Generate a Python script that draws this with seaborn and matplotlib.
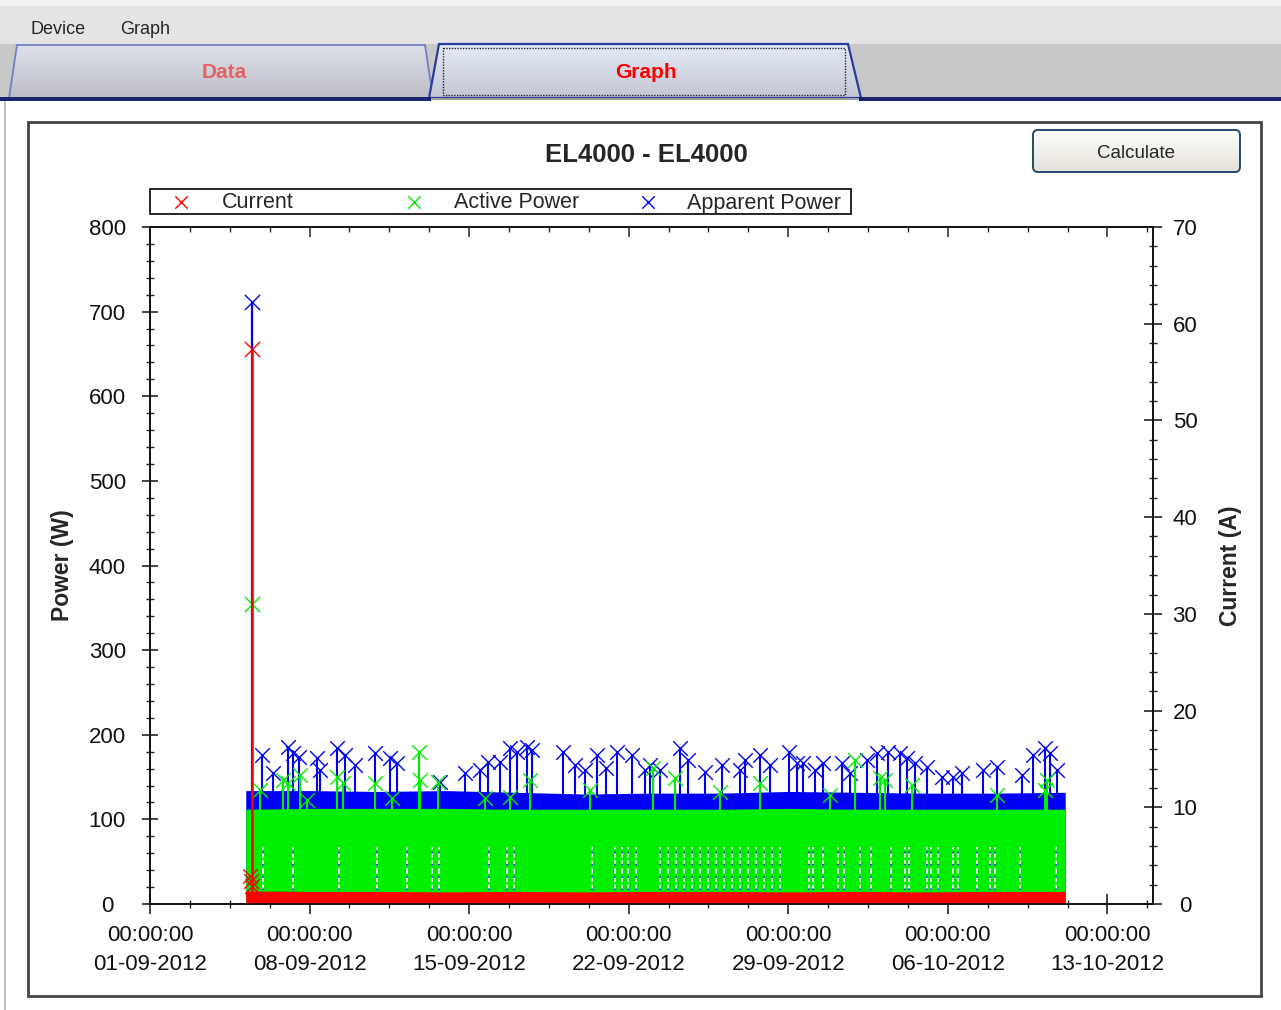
import numpy as np
import pandas as pd
import matplotlib
matplotlib.use("Agg")
import matplotlib.pyplot as plt
import matplotlib.dates as mdates
from matplotlib.patches import Polygon, Rectangle, FancyBboxPatch
from matplotlib.colors import LinearSegmentedColormap
from matplotlib.ticker import FixedLocator, MultipleLocator
import seaborn as sns

sns.set_style("ticks")
plt.rcParams["font.family"] = ["Liberation Sans", "DejaVu Sans"]

# ---------------- data ----------------
ORIGIN = pd.Timestamp("2012-09-01")
X_END = pd.Timestamp("2012-10-15")
tick_dates = ["2012-09-01", "2012-09-08", "2012-09-15", "2012-09-22",
              "2012-09-29", "2012-10-06", "2012-10-13"]

series_names = ["Current", "Active Power", "Apparent Power"]

# envelope of the dense, continuously logged band (days after 01-09-2012)
envelope_days = [4.20, 7.0, 10.0, 13.0, 16.0, 19.0, 22.0, 25.0, 28.0, 31.0, 34.0, 37.0, 40.15]
apparent_top = [134, 134, 133, 134, 132, 130, 131, 131, 133, 132, 131, 131, 132]      # W
active_top = [112, 113, 113, 113, 112, 112, 112, 112, 113, 112, 112, 112, 112]        # W
current_top = [1.35, 1.30, 1.30, 1.25, 1.30, 1.25, 1.30, 1.30, 1.25, 1.30, 1.25, 1.30, 1.30]  # A

# single start-up spike
spike_day = 4.48
spike_apparent = 711   # W
spike_active = 355     # W
spike_current = 57.4   # A

# early current readings at the start of logging
early_current_days = [4.40, 4.43, 4.46]
early_current = [2.9, 2.4, 1.9]

# apparent power peaks above the band
apparent_peak_days = [4.92, 5.40, 6.06, 6.28, 6.54, 7.33, 7.46, 8.21, 8.56, 9.00, 9.87, 10.53,
                      10.84, 12.73, 13.82, 14.48, 14.83, 15.36, 15.80, 16.11, 16.55, 16.76,
                      18.13, 18.65, 19.09, 19.62, 20.01, 20.50, 21.15, 21.72, 21.94, 22.38,
                      23.26, 23.61, 24.36, 25.10, 25.89, 26.11, 26.77, 27.21, 28.04, 28.39,
                      28.66, 29.18, 29.54, 30.37, 30.72, 31.47, 31.91, 32.39, 32.91, 33.22,
                      33.57, 34.10, 34.76, 35.24, 35.64, 36.56, 37.17, 38.27, 38.75, 39.28,
                      39.50, 39.81]
apparent_peak_w = [176, 155, 186, 178, 174, 173, 158, 184, 176, 164, 178, 173,
                   167, 144, 155, 158, 168, 168, 184, 180, 186, 182,
                   180, 164, 158, 176, 161, 180, 176, 158, 164, 158,
                   184, 170, 156, 164, 158, 170, 176, 164, 180, 167,
                   167, 158, 167, 167, 155, 170, 178, 180, 178, 173,
                   167, 162, 150, 150, 155, 158, 162, 152, 176, 184,
                   178, 158]

# active power peaks above the band
active_peak_days = [4.83, 5.84, 6.06, 6.58, 6.89, 8.21, 8.47, 9.87, 10.62, 11.81, 11.85,
                    12.64, 14.70, 15.80, 16.68, 19.31, 22.08, 23.04, 25.02, 26.77, 29.84,
                    30.94, 32.04, 32.26, 33.44, 37.17, 39.28, 39.37]
active_peak_w = [135, 147, 143, 152, 123, 150, 143, 143, 125, 180, 147,
                 144, 125, 126, 147, 135, 161, 149, 132, 143, 129,
                 170, 149, 147, 141, 129, 135, 147]

# short drop-outs of active power (white gaps in the green band)
gap_days = [4.96, 6.28, 8.29, 9.96, 11.28, 12.38, 12.68, 14.88, 15.67, 15.97, 19.40,
            20.41, 20.71, 20.98, 21.33, 22.38, 22.73, 23.08, 23.44, 23.79, 24.14, 24.49,
            24.84, 25.19, 25.54, 25.89, 26.24, 26.60, 26.95, 27.30, 27.65, 28.92, 29.10,
            29.54, 30.19, 30.46, 31.16, 31.64, 32.52, 33.13, 33.31, 34.10, 34.28, 34.58,
            35.24, 35.46, 36.29, 36.86, 37.08, 38.18, 39.76]
gap_low, gap_high = 16, 67   # W

# ---------------- helpers ----------------
RED, GREEN, BLUE = "#ff0000", "#00ee00", "#0000f4"
W, H = 1281, 1010


def days(d):
    return ORIGIN + pd.to_timedelta(np.asarray(d, dtype=float), unit="D")


fig = plt.figure(figsize=(W / 100, H / 100), dpi=100)
fig.patch.set_facecolor("white")

# ---------------- window chrome (pixel coordinates) ----------------
bg = fig.add_axes([0, 0, 1, 1], zorder=0)
bg.axis("off")


def grad_fill(patch_for_clip, x0, x1, y0, y1, c_top, c_bot, z):
    cmap = LinearSegmentedColormap.from_list("g", [c_top, c_bot])
    im = bg.imshow(np.linspace(0, 1, 256)[:, None], extent=(x0, x1, y1, y0),
                   cmap=cmap, aspect="auto", zorder=z, origin="upper")
    bg.add_patch(patch_for_clip)
    im.set_clip_path(patch_for_clip)


def grad_poly(verts, c_top, c_bot, edge, lw, z):
    xs = [v[0] for v in verts]
    ys = [v[1] for v in verts]
    clip = Polygon(verts, closed=True, transform=bg.transData, facecolor="none", edgecolor="none")
    grad_fill(clip, min(xs), max(xs), min(ys), max(ys), c_top, c_bot, z)
    bg.add_patch(Polygon(verts, closed=True, facecolor="none", edgecolor=edge, lw=lw, zorder=z + 1))


bg.add_patch(Rectangle((0, 0), W, 6, facecolor="#f2f2f2", edgecolor="none", zorder=1))
bg.add_patch(Rectangle((0, 6), W, 38, facecolor="#e4e4e4", edgecolor="none", zorder=1))
bg.add_patch(Rectangle((0, 44), W, 55, facecolor="#c8c8c8", edgecolor="none", zorder=1))
bg.text(30, 30, "Device", fontsize=13, va="center", ha="left", zorder=5)
bg.text(120, 30, "Graph", fontsize=13, va="center", ha="left", zorder=5)

grad_poly([(9, 98), (17, 45), (425, 45), (433, 98)], "#dde0ea", "#bdbdc6", "#7480c4", 1.3, 2)
grad_poly([(429, 98), (439, 44), (848, 44), (861, 98)], "#e4eaf8", "#c4c6d2", "#2a3c9c", 1.6, 3)
bg.add_patch(Rectangle((443, 48), 402, 47, facecolor="none", edgecolor="#222222", lw=1.0,
                       linestyle=(0, (1, 1)), zorder=6))
bg.text(224, 73, "Data", fontsize=15, weight="bold", color="#e86262", ha="center", va="center", zorder=6)
bg.text(646, 73, "Graph", fontsize=15, weight="bold", color="#ff0000", ha="center", va="center", zorder=6)
bg.add_patch(Rectangle((0, 97), 431, 3.5, facecolor="#1a2470", edgecolor="none", zorder=7))
bg.add_patch(Rectangle((859, 97), W - 859, 3.5, facecolor="#1a2470", edgecolor="none", zorder=7))
bg.add_patch(Rectangle((431, 98), 428, 1.5, facecolor="#9a9aa8", edgecolor="none", zorder=7))
bg.plot([5, 5], [100, H], color="#b4b4b4", lw=1.2, zorder=2)

# chart panel and button
bg.add_patch(Rectangle((28, 122), 1233, 874, facecolor="white", edgecolor="#454545", lw=2.0, zorder=2))
btn_clip = FancyBboxPatch((1033, 130), 207, 42, boxstyle="round,pad=0,rounding_size=5",
                          transform=bg.transData, facecolor="none", edgecolor="none")
grad_fill(btn_clip, 1033, 1240, 130, 172, "#fefefc", "#e4e1d8", 3)
bg.add_patch(FancyBboxPatch((1033, 130), 207, 42, boxstyle="round,pad=0,rounding_size=5",
                            facecolor="none", edgecolor="#27466e", lw=1.4, zorder=4))
bg.text(1136, 153, "Calculate", fontsize=13.5, ha="center", va="center", zorder=6)

# legend
bg.add_patch(Rectangle((150, 189), 701, 25, facecolor="white", edgecolor="black", lw=1.2, zorder=4))
for xm, xt, col, name in zip([181, 414, 648], [222, 454, 687], [RED, GREEN, BLUE], series_names):
    bg.scatter([xm], [202], marker="x", s=80, color=col, linewidths=1.0, zorder=6)
    bg.text(xt, 203, name, fontsize=15.5, ha="left", va="center", zorder=6)

bg.text(646, 155, "EL4000 - EL4000", fontsize=18.5, weight="bold", ha="center", va="center", zorder=6)
bg.set_xlim(0, W)
bg.set_ylim(H, 0)

# ---------------- chart ----------------
L, R, T, B = 150, 1153, 227, 904
ax = fig.add_axes([L / W, 1 - B / H, (R - L) / W, (B - T) / H], zorder=2)
ax2 = ax.twinx()
ax2.set_zorder(3)
ax2.patch.set_visible(False)

env_t = days(envelope_days)

# apparent power
ax.fill_between(env_t, 0, apparent_top, color=BLUE, lw=0, zorder=1)
app_df = pd.DataFrame({"time": days(apparent_peak_days), "power": apparent_peak_w})
ax.vlines(app_df["time"], 120, app_df["power"], color=BLUE, lw=1.5, zorder=2)
sns.scatterplot(data=app_df, x="time", y="power", marker="x", color=BLUE, s=110,
                linewidth=1.0, ax=ax, zorder=3, legend=False)
ax.vlines(days([spike_day]), 0, [spike_apparent], color=BLUE, lw=1.6, zorder=2)
sns.scatterplot(x=days([spike_day]), y=[spike_apparent], marker="x", color=BLUE, s=120,
                linewidth=1.0, ax=ax, zorder=3, legend=False)

# active power
ax.fill_between(env_t, 0, active_top, color=GREEN, lw=0, zorder=4)
act_df = pd.DataFrame({"time": days(active_peak_days), "power": active_peak_w})
ax.vlines(act_df["time"], 105, act_df["power"], color=GREEN, lw=1.5, zorder=5)
sns.scatterplot(data=act_df, x="time", y="power", marker="x", color=GREEN, s=110,
                linewidth=1.0, ax=ax, zorder=6, legend=False)
sns.scatterplot(x=days([spike_day]), y=[spike_active], marker="x", color=GREEN, s=120,
                linewidth=1.0, ax=ax, zorder=6, legend=False)
gap_t = days(gap_days)
ax.vlines(gap_t, gap_low, gap_high, color="white", lw=1.3, linestyles=[(0, (3, 1.5))], zorder=7)
ax.vlines(gap_t, gap_low, gap_high, color=BLUE, lw=1.1, linestyles=[(0, (1, 7))], zorder=8)

# current (right axis)
ax2.fill_between(env_t, 0, current_top, color=RED, lw=0, zorder=1)
ax2.vlines(days([spike_day]), 0, [spike_current], color=RED, lw=1.8, zorder=2)
sns.scatterplot(x=days([spike_day]), y=[spike_current], marker="x", color=RED, s=120,
                linewidth=1.0, ax=ax2, zorder=3, legend=False)
sns.scatterplot(x=days(early_current_days), y=early_current, marker="x", color=RED, s=110,
                linewidth=1.0, ax=ax2, zorder=3, legend=False)

# ---------------- axes styling ----------------
ax.set_xlim(ORIGIN, X_END)
ax.set_ylim(0, 800)
ax2.set_ylim(0, 70)
ax.set_xlabel("")
ax2.set_xlabel("")
ax.set_ylabel("")
ax2.set_ylabel("")

ax.xaxis.set_major_locator(FixedLocator(mdates.date2num(pd.to_datetime(tick_dates))))
ax.xaxis.set_minor_locator(FixedLocator(mdates.date2num(pd.date_range(ORIGIN, X_END, freq="42h"))))
ax.xaxis.set_major_formatter(mdates.DateFormatter("%H:%M:%S\n%d-%m-%Y"))
ax.yaxis.set_major_locator(MultipleLocator(100))
ax.yaxis.set_minor_locator(MultipleLocator(20))
ax2.yaxis.set_major_locator(MultipleLocator(10))
ax2.yaxis.set_minor_locator(MultipleLocator(2))

tick_col = "#111111"
ax.tick_params(axis="x", which="major", direction="inout", length=14, width=1.1, pad=8,
               labelsize=16, top=False, bottom=True, colors=tick_col)
ax.tick_params(axis="x", which="minor", direction="inout", length=6, width=1.0, top=False, bottom=True)
ax.tick_params(axis="y", which="major", direction="inout", length=11.5, width=1.1, pad=25,
               labelsize=16, left=True, right=False, colors=tick_col)
ax.tick_params(axis="y", which="minor", direction="inout", length=6, width=1.0, left=True, right=False)
ax2.tick_params(axis="y", which="major", direction="inout", length=13, width=1.1, pad=16.5,
                labelsize=16, right=True, left=False, colors=tick_col)
ax2.tick_params(axis="y", which="minor", direction="inout", length=6, width=1.0, right=True, left=False)
ax2.xaxis.set_visible(True)
ax2.tick_params(axis="x", which="major", direction="in", length=7.2, width=1.1,
                bottom=False, top=True, labelbottom=False, labeltop=False)
ax2.tick_params(axis="x", which="minor", direction="in", length=3.6, width=1.0,
                bottom=False, top=True, labelbottom=False, labeltop=False)

for lab in ax.get_xticklabels():
    lab.set_linespacing(1.5)
for lab in ax.get_yticklabels():
    lab.set_horizontalalignment("center")
for lab in ax2.get_yticklabels():
    lab.set_horizontalalignment("center")

for a in (ax, ax2):
    for s in a.spines.values():
        s.set_visible(True)
        s.set_color("#111111")
        s.set_linewidth(1.2)

ax.set_ylabel("Power (W)", fontsize=16.5, weight="bold")
ax.yaxis.set_label_coords((74 - L) / (R - L), 0.5)
ax2.set_ylabel("Current (A)", fontsize=16.5, weight="bold")
ax2.yaxis.set_label_coords((1219 - L) / (R - L), 0.5)

fig.savefig("out.png", dpi=100)
